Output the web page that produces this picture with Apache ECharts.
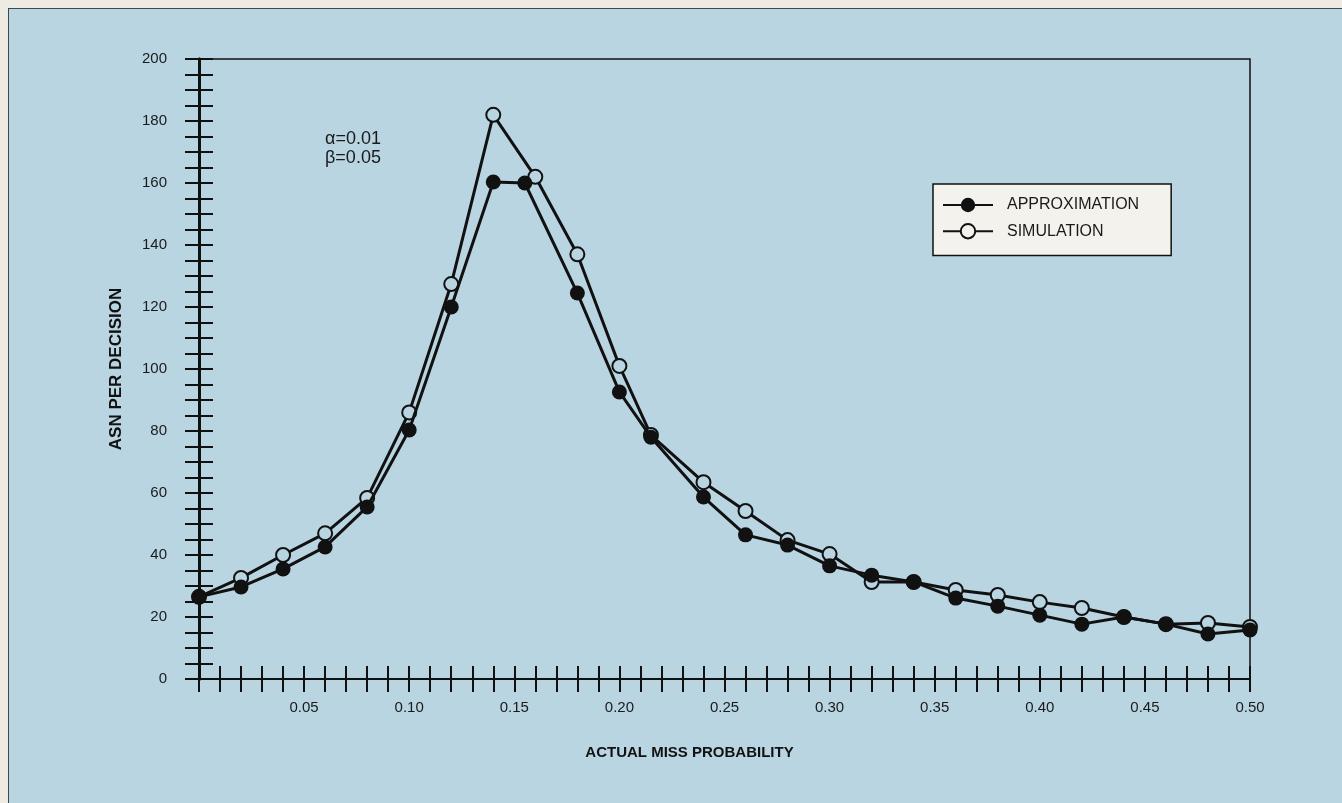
<!DOCTYPE html>
<html>
<head>
<meta charset="utf-8">
<script src="https://cdn.jsdelivr.net/npm/echarts@6/dist/echarts.min.js"></script>
<style>
  html, body { margin: 0; padding: 0; background: #eeebe3; }
  #frame { position: absolute; left: 8px; top: 8px; width: 1334px; height: 795px;
           background: #b9d5e2; border-left: 1.5px solid #3a4a50; border-top: 1.5px solid #3a4a50; box-sizing: border-box; }
  #chart { position: absolute; left: 0; top: 0; width: 1342px; height: 803px; }
</style>
</head>
<body>
<div id="frame"></div>
<div id="chart"></div>
<script>
// ---- data ----
const xApprox = [0, 0.02, 0.04, 0.06, 0.08, 0.10, 0.12, 0.14, 0.155, 0.18, 0.20, 0.215, 0.24, 0.26, 0.28, 0.30, 0.32, 0.34, 0.36, 0.38, 0.40, 0.42, 0.44, 0.46, 0.48, 0.50];
const approx  = [26.5, 29.7, 35.5, 42.6, 55.5, 80.3, 120, 160.3, 160, 124.5, 92.6, 78, 58.7, 46.5, 43.2, 36.5, 33.5, 31.3, 26.1, 23.5, 20.6, 17.7, 20, 17.7, 14.5, 15.8];
const xSim    = [0, 0.02, 0.04, 0.06, 0.08, 0.10, 0.12, 0.14, 0.16, 0.18, 0.20, 0.215, 0.24, 0.26, 0.28, 0.30, 0.32, 0.34, 0.36, 0.38, 0.40, 0.42, 0.44, 0.46, 0.48, 0.50];
const sim     = [26.5, 32.6, 40, 47, 58.4, 86, 127.4, 182, 162, 137, 101, 78.7, 63.5, 54.2, 44.8, 40.3, 31.3, 31.3, 28.7, 27.1, 24.8, 22.9, 20, 17.7, 18.1, 16.8];
const seriesNames = ['APPROXIMATION', 'SIMULATION'];
const xTitle = 'ACTUAL MISS PROBABILITY';
const yTitle = 'ASN PER DECISION';
const annotation = 'α=0.01\nβ=0.05';

const BG = '#b9d5e2';
const INK = '#111';
const FONT = '"Liberation Sans", Arial, Helvetica, sans-serif';

const chart = echarts.init(document.getElementById('chart'), null, { renderer: 'canvas' });

const xLabelFmt = v => {
  const c = Math.round(v * 100);
  return (c > 0 && c % 5 === 0) ? (c / 100).toFixed(2) : '';
};
const yLabelFmt = v => (Math.round(v) % 20 === 0 ? String(Math.round(v)) : '');

const baseX = {
  type: 'value', min: 0, max: 0.5, interval: 0.01, position: 'bottom',
  splitLine: { show: false },
  axisLine: { onZero: false, lineStyle: { color: INK, width: 2 } }
};
const baseY = {
  type: 'value', min: 0, max: 200, interval: 5, position: 'left',
  splitLine: { show: false },
  axisLine: { onZero: false, lineStyle: { color: INK, width: 3 } }
};

chart.setOption({
  backgroundColor: 'transparent',
  animation: false,
  grid: { left: 199, top: 59, right: 92, bottom: 124, show: true, borderColor: INK, borderWidth: 1.5, backgroundColor: 'transparent' },
  legend: {
    data: [
      { name: seriesNames[0] },
      { name: seriesNames[1], itemStyle: { color: '#f3f2ed' } }
    ],
    orient: 'vertical', left: 933, top: 184,
    padding: [13, 32, 16, 9],
    itemWidth: 50, itemHeight: 18, itemGap: 10,
    backgroundColor: '#f3f2ed', borderColor: INK, borderWidth: 1.5, borderRadius: 0,
    textStyle: { fontFamily: FONT, fontSize: 16, color: '#1a1a1a', padding: [0, 0, 0, 9] }
  },
  xAxis: [
    Object.assign({}, baseX, {
      name: xTitle, nameLocation: 'middle', nameGap: 66,
      nameTextStyle: { fontFamily: FONT, fontWeight: 'bold', fontSize: 15, color: '#111', padding: [0, 70, 0, 0] },
      axisTick: { show: true, inside: false, length: 13, lineStyle: { color: INK, width: 2 } },
      axisLabel: { formatter: xLabelFmt, margin: 21, fontFamily: FONT, fontSize: 15, color: '#1a1a1a', showMinLabel: true, showMaxLabel: true }
    }),
    Object.assign({}, baseX, {
      axisTick: { show: true, inside: true, length: 13, lineStyle: { color: INK, width: 2 } },
      axisLabel: { show: false }
    })
  ],
  yAxis: [
    Object.assign({}, baseY, {
      name: yTitle, nameLocation: 'middle', nameGap: 74, nameRotate: 90,
      nameTextStyle: { fontFamily: FONT, fontWeight: 'bold', fontSize: 17, color: '#111' },
      axisTick: { show: true, inside: false, length: 14, lineStyle: { color: INK, width: 2 } },
      axisLabel: { formatter: yLabelFmt, margin: 32, fontFamily: FONT, fontSize: 15, color: '#1a1a1a' }
    }),
    Object.assign({}, baseY, {
      axisTick: { show: true, inside: true, length: 14, lineStyle: { color: INK, width: 2 } },
      axisLabel: { show: false }
    })
  ],
  graphic: [
    { type: 'text', left: 325, top: 130, z: 10,
      style: { text: annotation, fontFamily: FONT, fontSize: 18, lineHeight: 19, fill: '#1a1a1a' } }
  ],
  series: [
    {
      name: seriesNames[1], type: 'line', xAxisIndex: 0, yAxisIndex: 0,
      data: xSim.map((x, i) => [x, sim[i]]),
      symbol: 'circle', symbolSize: 14, showAllSymbol: true,
      lineStyle: { color: INK, width: 3 },
      itemStyle: { color: BG, borderColor: INK, borderWidth: 2 },
      z: 3
    },
    {
      name: seriesNames[0], type: 'line', xAxisIndex: 0, yAxisIndex: 0,
      data: xApprox.map((x, i) => [x, approx[i]]),
      symbol: 'circle', symbolSize: 15, showAllSymbol: true,
      lineStyle: { color: INK, width: 3 },
      itemStyle: { color: INK, borderColor: INK, borderWidth: 0 },
      z: 4
    }
  ]
});
</script>
</body>
</html>
